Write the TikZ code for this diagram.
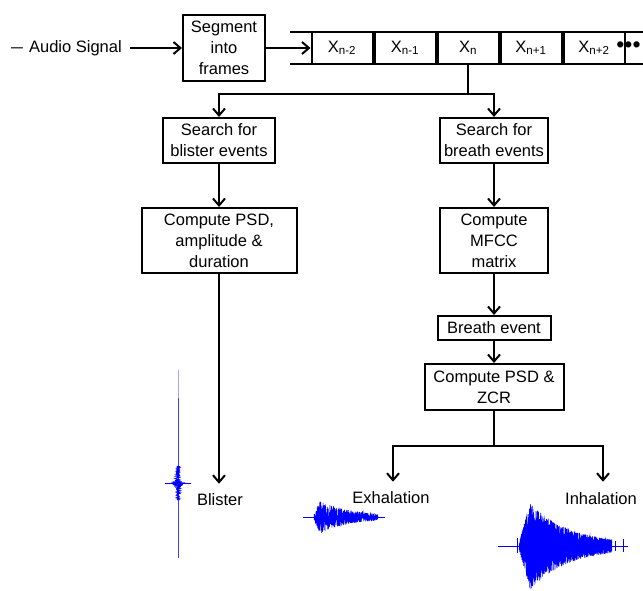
\documentclass[tikz,border=0pt]{standalone}
\usepackage{fontspec}
\setmainfont{Liberation Sans}
\usetikzlibrary{arrows.meta, positioning}

\tikzset{
  stage/.style={draw, line width=2pt, align=center, inner sep=0pt, font=\fontsize{16.5}{21}\selectfont},
  cell/.style={draw, line width=2pt, minimum width=61pt, minimum height=32pt, inner sep=0pt, font=\fontsize{16.5}{21}\selectfont},
  flow/.style={line width=2pt, -{Straight Barb[length=7pt,width=12pt,line width=2pt]}},
  plain/.style={line width=2pt},
  caption/.style={inner sep=0pt, font=\fontsize{16.5}{21}\selectfont},
  wave/.style={blue, line width=0.5pt}
}

\begin{document}
\begin{tikzpicture}[x=1pt, y=-1pt]
  \useasboundingbox (0,0) rectangle (643,591);
  \pgfmathsetseed{42}

  % Define nodes
  \node[caption, anchor=west] (audio) at (11,48) {\scalebox{1.3}[1]{–}\kern6pt Audio Signal};
  \node[stage, minimum width=82pt, minimum height=66pt] (seg) at (224,48) {Segment\\into\\frames};
  %--
  \node[cell] (xa) at (342,48) {X\textsubscript{n-2}};
  \node[cell, right=0pt of xa] (xb) {X\textsubscript{n-1}};
  \node[cell, right=0pt of xb] (xn) {X\textsubscript{n}};
  \node[cell, right=0pt of xn] (xc) {X\textsubscript{n+1}};
  \node[cell, right=0pt of xc] (xd) {X\textsubscript{n+2}};
  \node[inner sep=0pt, font=\fontsize{23}{23}\selectfont] (dots) at (628.5,47) {•••};
  %--
  \node[stage, minimum width=112pt, minimum height=45pt] (sblister) at (219,140.5) {Search for\\blister events};
  \node[stage, minimum width=108pt, minimum height=45pt] (sbreath) at (494,140.5) {Search for\\breath events};
  \node[stage, minimum width=155pt, minimum height=65pt] (psd) at (219,240.5) {Compute PSD,\\amplitude \&\\duration};
  \node[stage, minimum width=108pt, minimum height=65pt] (mfcc) at (494,240.5) {Compute\\MFCC\\matrix};
  \node[stage, minimum width=113pt, minimum height=24pt] (bevent) at (494,328) {Breath event};
  \node[stage, minimum width=139pt, minimum height=46pt] (pz) at (494,387) {Compute PSD \&\\ZCR};
  %--
  \node[caption] (blister) at (220,500) {Blister};
  \node[caption] (exh) at (391,498) {Exhalation};
  \node[caption] (inh) at (601,499) {Inhalation};
  \coordinate (split) at (xn.south |- 0,94);
  \coordinate (fork) at (494,446);

  % Frame strip
  \draw[plain] (290,32) -- (643,32);
  \draw[plain] (290,64) -- (643,64);

  % Connect the nodes
  \draw[flow, shorten <=8pt] (audio) -- (seg);
  \draw[flow] (seg) -- (xa);
  \draw[plain] (xn.south) -- (split);
  \draw[flow] (split) -| (sblister);
  \draw[flow] (split) -| (sbreath);
  \draw[flow] (sblister) -- (psd);
  \draw[flow, shorten >=10pt] (psd.south) -- (psd.south |- blister.north);
  \draw[flow] (sbreath) -- (mfcc);
  \draw[flow] (mfcc) -- (bevent);
  \draw[flow] (bevent) -- (pz);
  \draw[plain] (pz) -- (fork);
  \draw[flow, shorten >=10pt] (fork) -| ([xshift=2pt]exh.north);
  \draw[flow, shorten >=11pt] (fork) -| ([xshift=2pt]inh.north);

  % Waveforms
  \draw[blue!35, line width=0.7pt] (178,370) -- (178,398);
  \draw[blue!75, line width=0.8pt] (178,398) -- (178,558);
  \draw[wave] plot[domain=466:500, samples=260, variable=\t] ({178 + (1.5+7*exp(-abs(\t-483)/3))*rand}, {\t});
  \draw[wave, line width=1pt] (165,483) -- (191,483);
  \fill[blue] (178,483) circle (3pt);
  %--
  \draw[wave, line width=1pt] (303,517) -- (385,517);
  \draw[wave] plot[domain=314:378, samples=900, variable=\t] ({\t}, {517 + (\t<320 ? 2.5*(\t-314)+3 : 15*exp(-(\t-320)/26)+2)*rand});
  %--
  \draw[wave, line width=1pt] (498,546) -- (628,546);
  \draw[wave] plot[domain=519:612, samples=2400, variable=\t] ({\t}, {546 + (\t<530 ? 3.6*(\t-519)+4 : 42*exp(-(\t-530)/38)+2)*rand});
  \draw[wave] (517,538) -- (517,553);
  \draw[wave] (615,541) -- (615,551);
  \draw[wave] (623,539) -- (623,552);
\end{tikzpicture}
\end{document}
